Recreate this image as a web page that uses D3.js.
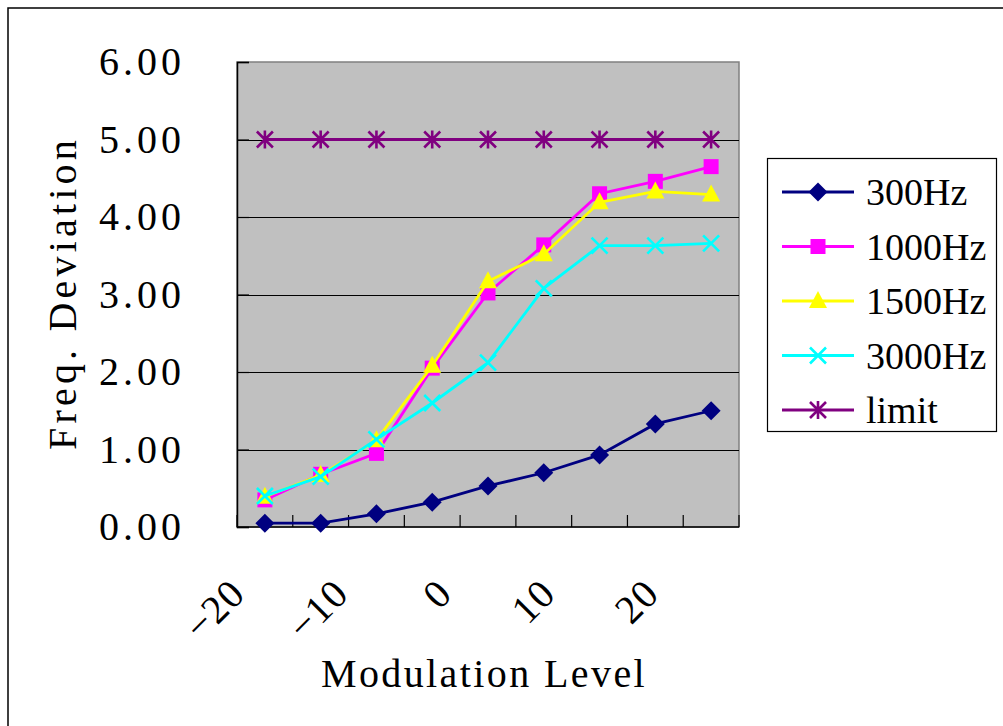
<!DOCTYPE html>
<html>
<head>
<meta charset="utf-8">
<script src="https://cdn.jsdelivr.net/npm/d3@7/dist/d3.min.js"></script>
<style>
  html, body { margin: 0; padding: 0; background: #fff; }
  svg { display: block; }
  text { font-family: "Liberation Serif", "DejaVu Serif", serif; fill: #000; }
</style>
</head>
<body>
<svg id="chart" width="1003" height="726"></svg>
<script>
// Modulation level categories (x axis)
const levels = [-20, -15, -10, -5, 0, 5, 10, 15, 20];
// Labels shown under the axis (every other category)
const levelLabels = [-20, -10, 0, 10, 20];
// Y axis ticks
const devTicks = [0, 1, 2, 3, 4, 5, 6];

// Measured frequency deviation per tone
const dev300 = [0.05, 0.05, 0.17, 0.32, 0.53, 0.70, 0.93, 1.33, 1.50];
const dev1000 = [0.35, 0.68, 0.95, 2.05, 3.02, 3.64, 4.30, 4.46, 4.65];
const dev1500 = [0.39, 0.67, 1.12, 2.08, 3.17, 3.52, 4.19, 4.33, 4.29];
const dev3000 = [0.40, 0.65, 1.13, 1.60, 2.12, 3.08, 3.63, 3.63, 3.66];
const devLimit = [5, 5, 5, 5, 5, 5, 5, 5, 5];

const seriesNames = ["300Hz", "1000Hz", "1500Hz", "3000Hz", "limit"];
const seriesValues = [dev300, dev1000, dev1500, dev3000, devLimit];
const seriesColors = ["#000080", "#FF00FF", "#FFFF00", "#00FFFF", "#800080"];
const seriesMarkers = ["diamond", "square", "triangle", "cross", "star"];

const svg = d3.select("#chart");
const plot = { left: 237, right: 739, top: 62, bottom: 527 };
const fontSize = 40;

// Outer chart frame
svg.append("rect")
  .attr("x", 8).attr("y", 8).attr("width", 1000).attr("height", 730)
  .attr("fill", "#fff").attr("stroke", "#000").attr("stroke-width", 1.5);

const x = d3.scaleBand().domain(levels).range([plot.left, plot.right]);
const y = d3.scaleLinear().domain([0, 6]).range([plot.bottom, plot.top]);
const cx = d => x(d) + x.bandwidth() / 2;

// Plot area
svg.append("rect")
  .attr("x", plot.left).attr("y", plot.top)
  .attr("width", plot.right - plot.left).attr("height", plot.bottom - plot.top)
  .attr("fill", "#C0C0C0").attr("stroke", "#808080").attr("stroke-width", 1.5);

// Horizontal gridlines
svg.append("g").selectAll("line")
  .data(devTicks.filter(t => t > 0 && t < 6))
  .join("line")
  .attr("x1", plot.left).attr("x2", plot.right)
  .attr("y1", d => Math.round(y(d)) + 0.5).attr("y2", d => Math.round(y(d)) + 0.5)
  .attr("stroke", "#000").attr("stroke-width", 1);

// Y axis: inside ticks, labels at left
const yAxis = d3.axisLeft(y).tickValues(devTicks).tickSize(-12).tickPadding(52)
  .tickFormat(d3.format(".2f"));
const gy = svg.append("g").attr("transform", `translate(${plot.left},0)`).call(yAxis);
gy.select(".domain").attr("stroke", "#000").attr("stroke-width", 1.5);
gy.selectAll(".tick line").attr("stroke", "#000").attr("stroke-width", 1.2);
gy.selectAll(".tick text")
  .attr("font-family", "Liberation Serif").attr("font-size", fontSize)
  .attr("letter-spacing", 4).attr("fill", "#000");

// X axis: inside ticks at category boundaries
const boundaries = levels.map(d => x(d)).concat([plot.right]);
const gx = svg.append("g");
gx.append("line")
  .attr("x1", plot.left).attr("x2", plot.right)
  .attr("y1", plot.bottom).attr("y2", plot.bottom)
  .attr("stroke", "#000").attr("stroke-width", 1.5);
gx.selectAll("line.tick").data(boundaries).join("line").attr("class", "tick")
  .attr("x1", d => d).attr("x2", d => d)
  .attr("y1", plot.bottom).attr("y2", plot.bottom - 12)
  .attr("stroke", "#000").attr("stroke-width", 1.2);

// Rotated category labels
const labelX = d3.scaleLinear().domain([-20, 20]).range([247, 661]);
gx.selectAll("text").data(levelLabels).join("text")
  .attr("transform", d => `translate(${labelX(d)},596) rotate(-45)`)
  .attr("text-anchor", "end")
  .attr("font-size", fontSize)
  .attr("letter-spacing", 1)
  .text(d => d < 0 ? "\u2212" + Math.abs(d) : d);

// Axis titles
svg.append("text")
  .attr("transform", "translate(76,293) rotate(-90)")
  .attr("text-anchor", "middle").attr("font-size", fontSize)
  .attr("letter-spacing", 4.2)
  .text("Freq. Deviation");
svg.append("text")
  .attr("x", 484).attr("y", 687)
  .attr("text-anchor", "middle").attr("font-size", fontSize)
  .attr("letter-spacing", 2.4)
  .text("Modulation Level");

// Marker shapes
function drawMarker(g, type, color) {
  if (type === "diamond") {
    g.append("path").attr("d", "M0,-9.5L9.5,0L0,9.5L-9.5,0Z").attr("fill", color);
  } else if (type === "square") {
    g.append("rect").attr("x", -7.5).attr("y", -7.5).attr("width", 15).attr("height", 15).attr("fill", color);
  } else if (type === "triangle") {
    g.append("path").attr("d", "M0,-10L9,7L-9,7Z").attr("fill", color);
  } else if (type === "cross") {
    g.append("path").attr("d", "M-8,-8L8,8M-8,8L8,-8")
      .attr("stroke", color).attr("stroke-width", 2.6).attr("fill", "none");
  } else if (type === "star") {
    g.append("path").attr("d", "M-8,-8L8,8M-8,8L8,-8M0,-9L0,9")
      .attr("stroke", color).attr("stroke-width", 2.6).attr("fill", "none");
  }
}

const line = d3.line().x((d, i) => cx(levels[i])).y(d => y(d));

seriesValues.forEach((vals, si) => {
  const g = svg.append("g");
  g.append("path").datum(vals)
    .attr("d", line).attr("fill", "none")
    .attr("stroke", seriesColors[si]).attr("stroke-width", 2.8);
  g.selectAll("g.m").data(vals).join("g").attr("class", "m")
    .attr("transform", (d, i) => `translate(${cx(levels[i])},${y(d)})`)
    .each(function () { drawMarker(d3.select(this), seriesMarkers[si], seriesColors[si]); });
});

// Legend
const legend = svg.append("g");
legend.append("rect")
  .attr("x", 767.5).attr("y", 158.5).attr("width", 229).attr("height", 273)
  .attr("fill", "#fff").attr("stroke", "#000").attr("stroke-width", 1.2);
const rowY = d3.scalePoint().domain(seriesNames).range([192, 410]);
seriesNames.forEach((name, si) => {
  const ry = rowY(name);
  legend.append("line")
    .attr("x1", 782).attr("x2", 854).attr("y1", ry).attr("y2", ry)
    .attr("stroke", seriesColors[si]).attr("stroke-width", 2.8);
  const mg = legend.append("g").attr("transform", `translate(818,${ry})`);
  drawMarker(mg, seriesMarkers[si], seriesColors[si]);
  legend.append("text")
    .attr("x", 866).attr("y", ry + 13)
    .attr("font-size", 38)
    .text(name);
});
</script>
</body>
</html>
